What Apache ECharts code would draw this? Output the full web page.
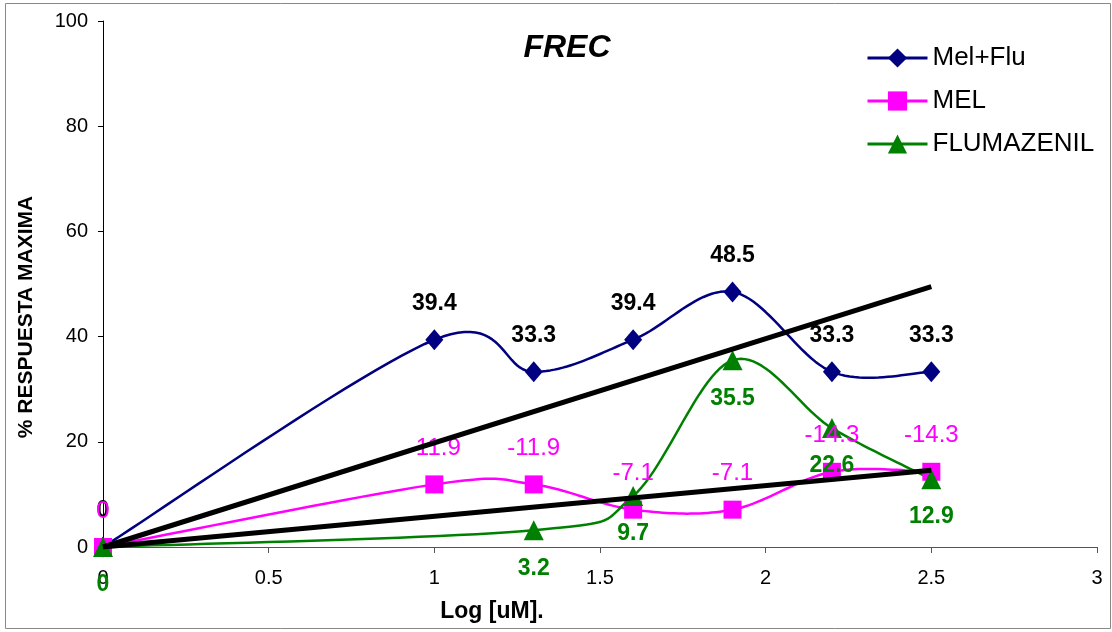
<!DOCTYPE html>
<html>
<head>
<meta charset="utf-8">
<script src="https://cdn.jsdelivr.net/npm/echarts@6/dist/echarts.min.js"></script>
<style>
  html, body { margin: 0; padding: 0; background: #fff; }
  #chart { width: 1112px; height: 632px; }
</style>
</head>
<body>
<div id="chart"></div>
<script>
// Log concentration (x) for each dose
const doseMelFlu = [0, 1, 1.3, 1.6, 1.9, 2.2, 2.5];
const doseMel = [0, 1, 1.3, 1.6, 1.9, 2.2, 2.5];
const doseFlu = [0, 1.3, 1.6, 1.9, 2.2, 2.5];

// % maximum response per dose
const respMelFlu = [0, 39.4, 33.3, 39.4, 48.5, 33.3, 33.3];
const respMel = [0, -11.9, -11.9, -7.1, -7.1, -14.3, -14.3]; // signed; plotted as magnitude
const respFlu = [0, 3.2, 9.7, 35.5, 22.6, 12.9];

// Linear trend lines (start and end points)
const trendHigh = [[0, 0], [2.5, 49.5]];
const trendLow = [[0, 0], [2.5, 14.6]];

// Axis ranges
const xTicks = [0, 0.5, 1, 1.5, 2, 2.5, 3];
const yTicks = [0, 20, 40, 60, 80, 100];

const FONT = 'Liberation Sans, Arial, sans-serif';
const NAVY = '#000080', MAGENTA = '#FF00FF', GREEN = '#008000';

const pairs = (xs, ys, f) => xs.map((x, i) => ({ value: [x, f ? f(ys[i]) : ys[i]], raw: ys[i] }));

// Spreadsheet-style smoothed curve: cubic Bezier with tangents (P[i+1]-P[i-1])/6,
// sampled in pixel space after mapping the data through the axes.
function smoothCurveSeries(xs, ys, color) {
  return {
    type: 'custom',
    silent: true,
    z: 2,
    data: xs.map((x, i) => [x, ys[i]]),
    renderItem: (params, api) => {
      if (params.dataIndex !== 0) return null;
      const p = xs.map((x, i) => api.coord([x, ys[i]]));
      const pts = [p[0]];
      for (let i = 0; i < p.length - 1; i++) {
        const p0 = p[i - 1] || p[i], p1 = p[i], p2 = p[i + 1], p3 = p[i + 2] || p[i + 1];
        const c1 = [p1[0] + (p2[0] - p0[0]) / 6, p1[1] + (p2[1] - p0[1]) / 6];
        const c2 = [p2[0] - (p3[0] - p1[0]) / 6, p2[1] - (p3[1] - p1[1]) / 6];
        const n = 24;
        for (let k = 1; k <= n; k++) {
          const t = k / n, u = 1 - t;
          const a = u * u * u, b = 3 * u * u * t, c = 3 * u * t * t, d = t * t * t;
          pts.push([
            a * p1[0] + b * c1[0] + c * c2[0] + d * p2[0],
            a * p1[1] + b * c1[1] + c * c2[1] + d * p2[1]
          ]);
        }
      }
      return {
        type: 'polyline',
        shape: { points: pts },
        style: { fill: null, stroke: color, lineWidth: 2.5, lineJoin: 'round', lineCap: 'round' }
      };
    }
  };
}

const labelBase = {
  show: true,
  position: 'inside',
  align: 'center',
  verticalAlign: 'middle',
  fontFamily: FONT,
  fontSize: 23
};

function markerSeries(name, xs, ys, symbol, size, color, label, f) {
  return {
    name,
    type: 'line',
    data: pairs(xs, ys, f),
    symbol, symbolSize: size,
    showAllSymbol: true,
    itemStyle: { color },
    lineStyle: { color, width: 2.5, opacity: 0 },
    label: Object.assign({}, labelBase, label, { formatter: p => String(p.data.raw) }),
    z: 3
  };
}

const chart = echarts.init(document.getElementById('chart'), null, { renderer: 'canvas' });

chart.setOption({
  animation: false,
  backgroundColor: '#fff',
  title: [
    {
      text: 'FREC',
      left: 562, top: 43,
      textAlign: 'center', textVerticalAlign: 'middle',
      textStyle: { fontFamily: FONT, fontSize: 32, fontWeight: 'bold', fontStyle: 'italic', color: '#000' }
    },
    {
      text: 'Log [uM].',
      left: 487, top: 607,
      textAlign: 'center', textVerticalAlign: 'middle',
      textStyle: { fontFamily: FONT, fontSize: 23, fontWeight: 'bold', color: '#000' }
    }
  ],
  graphic: [
    {
      type: 'rect',
      shape: { x: 5.5, y: 3.5, width: 1105, height: 625 },
      style: { fill: 'none', stroke: '#888', lineWidth: 1 },
      silent: true
    },
    {
      type: 'text',
      x: 26, y: 317,
      rotation: Math.PI / 2,
      style: {
        text: '% RESPUESTA MAXIMA',
        fontFamily: FONT, fontSize: 21, fontWeight: 'bold', fill: '#000',
        align: 'center', verticalAlign: 'middle'
      }
    }
  ],
  legend: {
    orient: 'vertical',
    left: 866, top: 45,
    padding: 0,
    itemWidth: 60, itemHeight: 24,
    itemGap: 17,
    textStyle: { fontFamily: FONT, fontSize: 26, color: '#000', lineHeight: 24 },
    data: [
      { name: 'Mel+Flu', lineStyle: { opacity: 1, width: 3 } },
      { name: 'MEL', lineStyle: { opacity: 1, width: 3 } },
      { name: 'FLUMAZENIL', lineStyle: { opacity: 1, width: 3 } }
    ]
  },
  grid: { left: 103, right: 15, top: 21, bottom: 85, containLabel: false },
  xAxis: {
    type: 'value',
    min: xTicks[0], max: xTicks[xTicks.length - 1], interval: xTicks[1] - xTicks[0],
    axisLine: { show: true, lineStyle: { color: '#555', width: 1 } },
    axisTick: { show: true, inside: false, length: 6, lineStyle: { color: '#555' } },
    axisLabel: { fontFamily: FONT, fontSize: 20, color: '#000', margin: 21 },
    splitLine: { show: false }
  },
  yAxis: {
    type: 'value',
    min: yTicks[0], max: yTicks[yTicks.length - 1], interval: yTicks[1] - yTicks[0],
    axisLine: { show: true, lineStyle: { color: '#000', width: 1 } },
    axisTick: { show: true, inside: false, length: 5, lineStyle: { color: '#000' } },
    axisLabel: { fontFamily: FONT, fontSize: 20, color: '#000', margin: 15 },
    splitLine: { show: false }
  },
  series: [
    smoothCurveSeries(doseMelFlu, respMelFlu, NAVY),
    smoothCurveSeries(doseMel, respMel.map(Math.abs), MAGENTA),
    smoothCurveSeries(doseFlu, respFlu, GREEN),
    markerSeries('Mel+Flu', doseMelFlu, respMelFlu, 'diamond', [18, 21], NAVY,
      { fontWeight: 'bold', color: '#000', offset: [0, -36] }),
    markerSeries('MEL', doseMel, respMel, 'rect', 18, MAGENTA,
      { color: MAGENTA, fontSize: 24, offset: [0, -36] }, Math.abs),
    markerSeries('FLUMAZENIL', doseFlu, respFlu, 'triangle', 20, GREEN,
      { fontWeight: 'bold', color: GREEN, offset: [0, 38] }),
    {
      name: 'trendHigh',
      type: 'line',
      data: trendHigh,
      symbol: 'none',
      lineStyle: { color: '#000', width: 5 },
      silent: true,
      z: 4
    },
    {
      name: 'trendLow',
      type: 'line',
      data: trendLow,
      symbol: 'none',
      lineStyle: { color: '#000', width: 5 },
      silent: true,
      z: 4
    }
  ]
});
</script>
</body>
</html>
